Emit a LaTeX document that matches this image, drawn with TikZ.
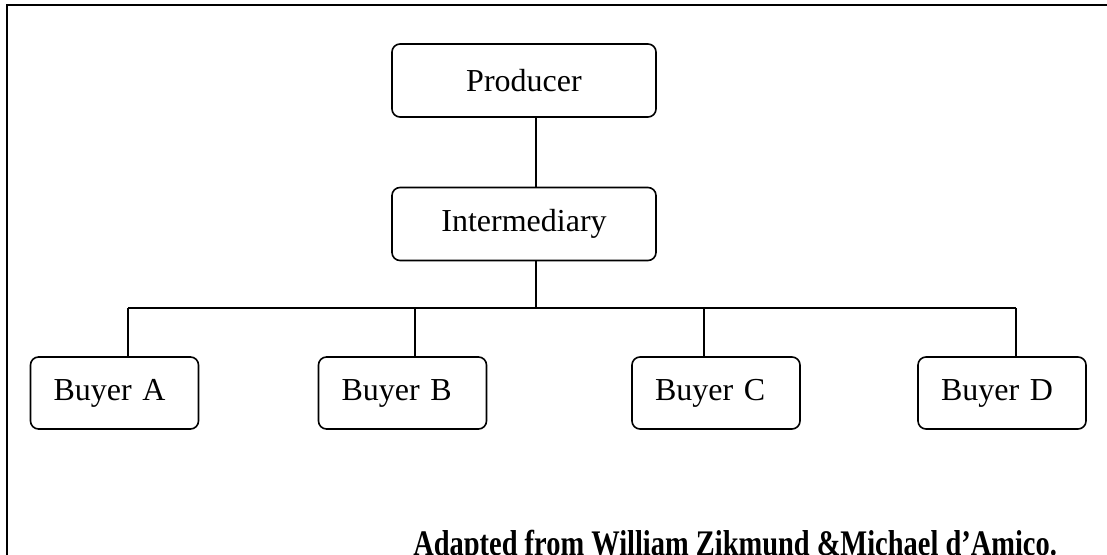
\documentclass[tikz,border=0pt]{standalone}
\usepackage{fontspec}
\setmainfont{Liberation Serif}
\usetikzlibrary{positioning}

\tikzset{
  boxtop/.style={draw, rounded corners=4pt, line width=0.8pt, minimum width=132pt, minimum height=36.5pt, inner sep=0pt},
  boxbuyer/.style={draw, rounded corners=4pt, line width=0.8pt, text width=61pt, inner xsep=11.5pt, inner ysep=0pt, minimum height=36pt, align=left},
  link/.style={line width=0.7pt}
}

\begin{document}
\begin{tikzpicture}[x=0.5pt, y=-0.5pt, font=\fontsize{16}{19}\selectfont]
	\useasboundingbox (0,0) rectangle (1107,555);

	% frame
	\draw[line width=1.1pt] (7,570) -- (7,5) -- (1120,5);

	% chain
	\node[boxtop] (producer) at (524,80.5) {Producer};
	\node[boxtop] (inter) at (524,224) {Intermediary};

	% buyers
	\node[boxbuyer] (buyerA) at (114.5,393) {Buyer A};
	\node[boxbuyer] (buyerB) at (402.5,393) {Buyer B};
	\node[boxbuyer] (buyerC) at (716,393) {Buyer C};
	\node[boxbuyer] (buyerD) at (1002,393) {Buyer D};

	% connectors
	\coordinate (mid) at (536,0);
	\coordinate (bus) at (0,308);
	\coordinate (tapA) at (128,308);
	\coordinate (tapB) at (415,308);
	\coordinate (tapC) at (704,308);
	\coordinate (tapD) at (1016,308);

	\draw[link] (producer.south -| mid) -- (inter.north -| mid);
	\draw[link] (inter.south -| mid) -- (bus -| mid);
	\draw[link] (tapA) -- (tapD);
	\foreach \b in {A,B,C,D}
	  \draw[link] (tap\b) -- (buyer\b.north -| tap\b);

	% source
	\node[anchor=base west, xscale=0.79, inner sep=0pt, font=\fontsize{18}{22}\selectfont\bfseries] (source) at (413,555) {Adapted from William Zikmund \&Michael d’Amico.};
\end{tikzpicture}
\end{document}
